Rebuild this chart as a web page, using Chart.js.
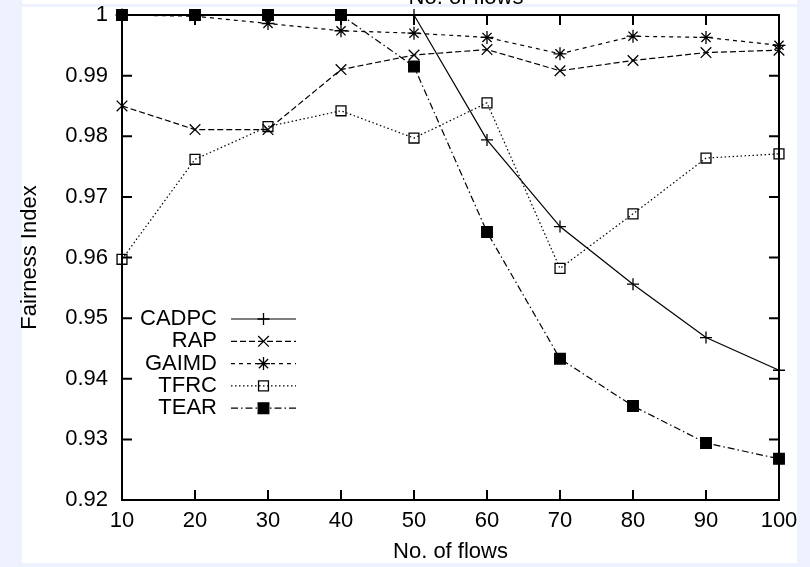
<!DOCTYPE html>
<html>
<head>
<meta charset="utf-8">
<title>Fairness Index vs. No. of flows</title>
<script src="https://cdn.jsdelivr.net/npm/chart.js"></script>
<style>
  html, body { margin: 0; padding: 0; background: #eef2fe; }
  #wrap { position: relative; width: 810px; height: 567px; }
</style>
</head>
<body>
<div id="wrap"><canvas id="chart" width="810" height="567"></canvas></div>
<script>
"use strict";

const flows = [10, 20, 30, 40, 50, 60, 70, 80, 90, 100];
const cadpc = [1, 1, 1, 1, 1, 0.9794, 0.9651, 0.9556, 0.9468, 0.9414];
const rap   = [0.9850, 0.9811, 0.9811, 0.9910, 0.9934, 0.9943, 0.9908, 0.9925, 0.9938, 0.9942];
const gaimd = [1, 0.9998, 0.9986, 0.9974, 0.9970, 0.9963, 0.9936, 0.9965, 0.9963, 0.9950];
const tfrc  = [0.9597, 0.9762, 0.9816, 0.9842, 0.9797, 0.9855, 0.9582, 0.9672, 0.9764, 0.9771];
const tear  = [1, 1, 1, 1, 0.9915, 0.9642, 0.9433, 0.9355, 0.9294, 0.9268];
const yTicks = [0.92, 0.93, 0.94, 0.95, 0.96, 0.97, 0.98, 0.99, 1];

const FONT = "'Liberation Sans', Arial, sans-serif";
const FONT_SIZE = 22;
const LAVENDER = '#eef2fe';

// gnuplot style series: black lines, dash pattern + point type tell them apart
function series(label, data, dash, style, radius, fill, order) {
    return {
        label: label,
        data: data,
        borderColor: '#000',
        backgroundColor: fill,
        borderWidth: 1.2,
        borderDash: dash,
        tension: 0,
        pointStyle: style,
        pointRadius: radius,
        pointHoverRadius: radius,
        pointBorderColor: '#000',
        pointBackgroundColor: fill,
        pointBorderWidth: 1.3,
        clip: false,
        order: order
    };
}

const datasets = [
    series('CADPC', cadpc, [], 'cross', 6, '#000', 4),
    series('RAP', rap, [6, 3], 'crossRot', 7.5, '#000', 3),
    series('GAIMD', gaimd, [4, 4], 'star', 6.5, '#000', 2),
    series('TFRC', tfrc, [1.5, 2.5], 'rect', 7, 'rgba(0,0,0,0)', 1),
    series('TEAR', tear, [7, 3, 1.5, 3], 'rect', 7.5, '#000', 0)
];

// page backdrop + the cut-off caption strip above the plot
const backdrop = {
    id: 'backdrop',
    beforeDraw(chart) {
        const ctx = chart.ctx;
        ctx.save();
        ctx.fillStyle = LAVENDER;
        ctx.fillRect(0, 0, 810, 567);
        ctx.fillStyle = '#fff';
        ctx.fillRect(22, 0, 775, 4);
        ctx.fillRect(22, 7, 775, 556);
        ctx.beginPath();
        ctx.rect(22, 0, 775, 4);
        ctx.clip();
        ctx.fillStyle = '#000';
        ctx.font = FONT_SIZE + 'px ' + FONT;
        ctx.textAlign = 'center';
        ctx.textBaseline = 'alphabetic';
        ctx.fillText('No. of flows', 466, 4);
        ctx.restore();
    },
    // the white sheet ends at x = 797, anything past it is cut off
    afterDraw(chart) {
        const ctx = chart.ctx;
        ctx.save();
        ctx.fillStyle = LAVENDER;
        ctx.fillRect(797, 0, 13, 567);
        ctx.restore();
    }
};

// border box with inward ticks on all four sides
const frame = {
    id: 'frame',
    beforeDatasetsDraw(chart) {
        const ctx = chart.ctx;
        const a = chart.chartArea;
        const x = chart.scales.x, y = chart.scales.y;
        const len = 10;
        ctx.save();
        ctx.strokeStyle = '#000';
        ctx.lineWidth = 2;
        ctx.setLineDash([]);
        ctx.beginPath();
        x.ticks.forEach((t, i) => {
            const px = x.getPixelForTick(i);
            ctx.moveTo(px, a.bottom); ctx.lineTo(px, a.bottom - len);
            ctx.moveTo(px, a.top); ctx.lineTo(px, a.top + len);
        });
        y.ticks.forEach(t => {
            const py = y.getPixelForValue(t.value);
            ctx.moveTo(a.left, py); ctx.lineTo(a.left + len, py);
            ctx.moveTo(a.right, py); ctx.lineTo(a.right - len, py);
        });
        ctx.stroke();
        ctx.strokeRect(a.left, a.top, a.right - a.left, a.bottom - a.top);
        ctx.restore();
    }
};

// key in the lower left: right-aligned names, then line sample with its point
const key = {
    id: 'key',
    afterDatasetsDraw(chart) {
        const ctx = chart.ctx;
        const textRight = 217, lineFrom = 231, lineTo = 296, firstRow = 319, rowStep = 22.3;
        ctx.save();
        ctx.font = FONT_SIZE + 'px ' + FONT;
        ctx.textAlign = 'right';
        ctx.textBaseline = 'middle';
        chart.data.datasets.forEach((ds, i) => {
            const rowY = firstRow + i * rowStep;
            ctx.fillStyle = '#000';
            ctx.fillText(ds.label, textRight, rowY);
            ctx.strokeStyle = ds.borderColor;
            ctx.lineWidth = ds.borderWidth;
            ctx.setLineDash(ds.borderDash);
            ctx.beginPath();
            ctx.moveTo(lineFrom, rowY);
            ctx.lineTo(lineTo, rowY);
            ctx.stroke();
            ctx.setLineDash([]);
            ctx.fillStyle = ds.pointBackgroundColor;
            ctx.strokeStyle = ds.pointBorderColor;
            ctx.lineWidth = ds.pointBorderWidth;
            Chart.helpers.drawPoint(ctx, {
                pointStyle: ds.pointStyle,
                radius: ds.pointRadius,
                rotation: 0,
                borderWidth: ds.pointBorderWidth
            }, (lineFrom + lineTo) / 2, rowY);
        });
        ctx.restore();
    }
};

new Chart(document.getElementById('chart'), {
    type: 'line',
    data: { labels: flows, datasets: datasets },
    options: {
        responsive: false,
        animation: false,
        events: [],
        devicePixelRatio: 1,
        layout: { padding: { left: 0, right: 31, top: 15, bottom: 0 } },
        plugins: {
            legend: { display: false },
            tooltip: { enabled: false }
        },
        scales: {
            x: {
                type: 'category',
                offset: false,
                grid: { display: false, drawTicks: false, offset: false },
                border: { display: false },
                ticks: {
                    color: '#000',
                    font: { family: FONT, size: FONT_SIZE },
                    padding: 8,
                    maxRotation: 0,
                    autoSkip: false
                },
                title: {
                    display: true,
                    text: 'No. of flows',
                    color: '#000',
                    font: { family: FONT, size: FONT_SIZE },
                    padding: { top: 0, bottom: 2 }
                },
                afterFit(scale) {
                    scale.height = 67;
                    scale.paddingLeft = 0;
                    scale.paddingRight = 0;
                }
            },
            y: {
                type: 'linear',
                min: 0.92,
                max: 1,
                grid: { display: false, drawTicks: false },
                border: { display: false },
                afterBuildTicks(scale) {
                    scale.ticks = yTicks.map(v => ({ value: v }));
                },
                ticks: {
                    color: '#000',
                    font: { family: FONT, size: FONT_SIZE },
                    padding: 14,
                    callback: v => String(+v.toFixed(2))
                },
                title: {
                    display: true,
                    text: 'Fairness Index',
                    color: '#000',
                    font: { family: FONT, size: FONT_SIZE },
                    padding: { top: 17, bottom: 0 }
                },
                afterFit(scale) {
                    scale.width = 122;
                    scale.paddingTop = 0;
                    scale.paddingBottom = 0;
                }
            }
        }
    },
    plugins: [backdrop, frame, key]
});
</script>
</body>
</html>
